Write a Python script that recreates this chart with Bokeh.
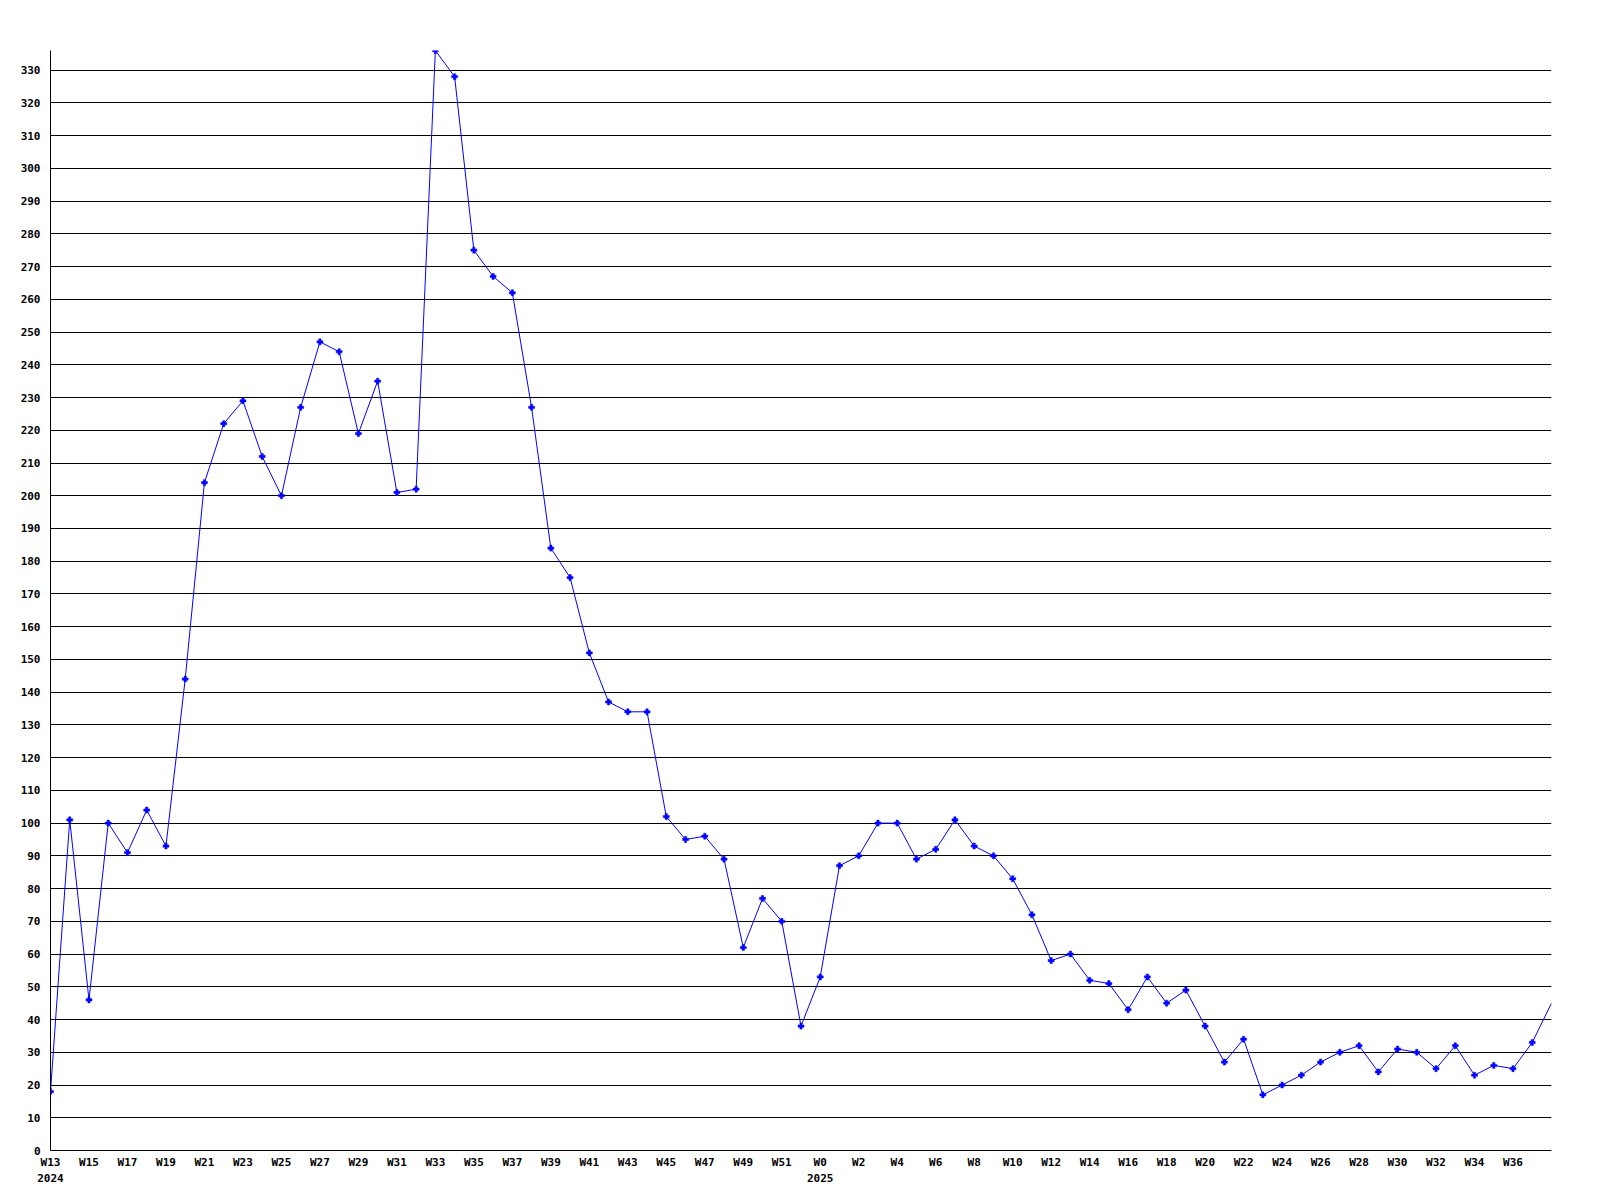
from bokeh.plotting import figure
from bokeh.models import ColumnDataSource, FixedTicker, Range1d
from bokeh.embed import file_html
from bokeh.resources import INLINE

# ---- data ----
weeks_2024 = [f"W{w}" for w in range(13, 53)]
weeks_2025 = [f"W{w}" for w in range(0, 39)]
week_labels = weeks_2024 + weeks_2025
years = ["2024", "2025"]

values = [18, 101, 46, 100, 91, 104, 93, 144, 204, 222,
          229, 212, 200, 227, 247, 244, 219, 235, 201, 202,
          336, 328, 275, 267, 262, 227, 184, 175, 152, 137,
          134, 134, 102, 95, 96, 89, 62, 77, 70, 38,
          53, 87, 90, 100, 100, 89, 92, 101, 93, 90,
          83, 72, 58, 60, 52, 51, 43, 53, 45, 49,
          38, 27, 34, 17, 20, 23, 27, 30, 32, 24,
          31, 30, 25, 32, 23, 26, 25, 33, 45]

y_ticks = list(range(0, 331, 10))

# ---- build ----
idx = list(range(len(values)))
x_end = len(values) - 1
y_top = max(values)

year_start = {0: years[0], len(weeks_2024): years[1]}
x_ticks = list(range(0, x_end, 2))
overrides = {}
for i in x_ticks:
    lab = week_labels[i]
    if i in year_start:
        lab = lab + "\n" + year_start[i]
    overrides[i] = lab

src_line = ColumnDataSource(dict(x=idx, y=values))
vis = [i for i in idx if i < x_end]
src_pts = ColumnDataSource(dict(x=vis, y=[values[i] for i in vis]))

p = figure(width=1600, height=1200, x_range=Range1d(0, x_end), y_range=Range1d(0, y_top),
           output_backend="svg", toolbar_location=None,
           min_border_left=50, min_border_top=50, min_border_right=49, min_border_bottom=50)
p.outline_line_color = None
p.background_fill_color = "white"
p.border_fill_color = "white"

p.line("x", "y", source=src_line, line_color="#0000ff", line_width=1)
p.scatter("x", "y", source=src_pts, marker="plus", size=6, fill_color="#0000ff",
          line_color="#0000ff", line_width=0.5)

font = "DejaVu Sans Mono"
for ax in (p.xaxis[0], p.yaxis[0]):
    ax.axis_line_color = "black"
    ax.axis_line_width = 1
    ax.major_tick_line_color = None
    ax.minor_tick_line_color = None
    ax.major_tick_out = 0
    ax.major_tick_in = 0
    ax.major_label_text_font = font
    ax.major_label_text_font_style = "bold"
    ax.major_label_text_font_size = "11px"
    ax.major_label_text_color = "black"

p.xaxis.ticker = FixedTicker(ticks=x_ticks)
p.xaxis.major_label_overrides = overrides
p.xaxis.major_label_standoff = 5
p.xaxis.major_label_text_line_height = 1.3

p.yaxis.ticker = FixedTicker(ticks=y_ticks)
p.yaxis.major_label_standoff = 10

p.xgrid.grid_line_color = None
p.ygrid.grid_line_color = "black"
p.ygrid.grid_line_width = 1

open("out.html", "w").write(file_html(p, INLINE))
